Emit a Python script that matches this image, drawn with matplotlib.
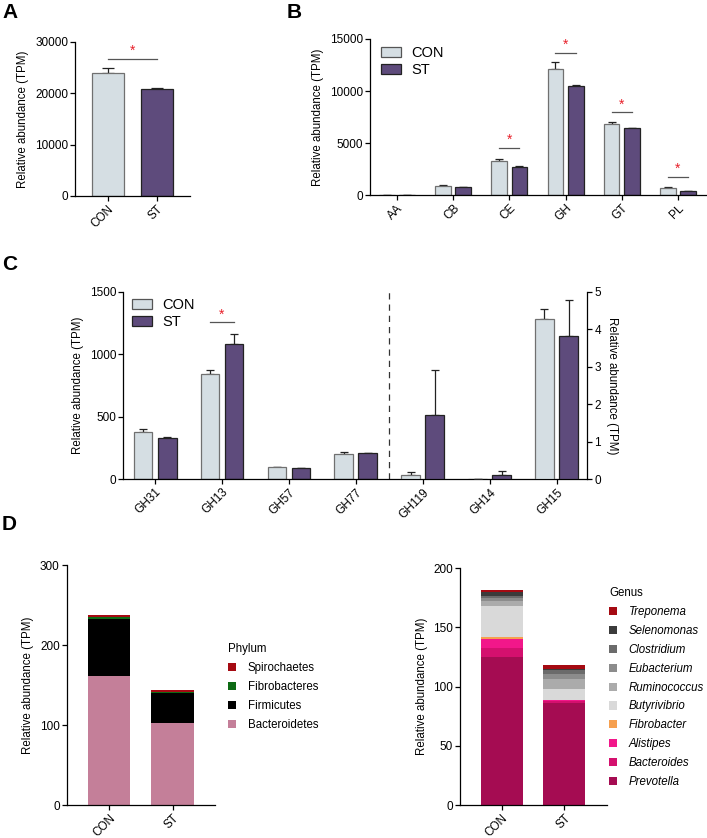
import matplotlib
matplotlib.use("Agg")
import matplotlib.pyplot as plt
from matplotlib.patches import Patch
import numpy as np

plt.rcParams['font.family'] = ['Liberation Sans', 'DejaVu Sans']
plt.rcParams['font.size'] = 8.5

W, H = 707, 838
CON_COLOR = '#d5dee3'
ST_COLOR = '#5e4b7c'

# ---- data ----
groups = ['CON', 'ST']

# panel A
a_mean = [23900, 20800]
a_err = [1000, 200]

# panel B
b_cats = ['AA', 'CB', 'CE', 'GH', 'GT', 'PL']
b_con = [20, 920, 3300, 12100, 6850, 720]
b_con_err = [5, 60, 180, 650, 150, 40]
b_st = [15, 760, 2750, 10450, 6420, 420]
b_st_err = [5, 30, 70, 150, 40, 20]
b_sig = ['CE', 'GH', 'GT', 'PL']
b_sig_y = [4570, 13690, 7970, 1760]

# panel C (left axis)
c_cats_left = ['GH31', 'GH13', 'GH57', 'GH77']
c_con_left = [378, 842, 96, 205]
c_con_left_err = [22, 32, 5, 11]
c_st_left = [328, 1082, 90, 210]
c_st_left_err = [10, 77, 3, 4]
# panel C (right axis)
c_cats_right = ['GH119', 'GH14', 'GH15']
c_con_right = [0.12, 0.0, 4.27]
c_con_right_err = [0.07, 0.0, 0.28]
c_st_right = [1.71, 0.11, 3.82]
c_st_right_err = [1.2, 0.10, 0.95]

# panel D phylum (bottom -> top)
phylum = ['Bacteroidetes', 'Firmicutes', 'Fibrobacteres', 'Spirochaetes']
phylum_con = [161, 71.5, 2.0, 2.5]
phylum_st = [102.5, 38, 0.6, 3.0]
phylum_colors = ['#c47f99', '#000000', '#0d6a14', '#a50a12']

# panel D genus (bottom -> top)
genus = ['Prevotella', 'Bacteroides', 'Alistipes', 'Fibrobacter', 'Butyrivibrio',
         'Ruminococcus', 'Eubacterium', 'Clostridium', 'Selenomonas', 'Treponema']
genus_con = [124.8, 7.6, 7.6, 2.2, 25.9, 4.5, 2.1, 2.2, 2.8, 2.0]
genus_st = [86.5, 1.0, 1.0, 0.3, 9.0, 8.5, 4.2, 3.5, 1.0, 3.4]
genus_colors = ['#a50c52', '#d4106e', '#f2178a', '#f6a04f', '#d9d9d9',
                '#ababab', '#8c8c8c', '#6b6b6b', '#3b3b3b', '#a50a12']


def px_axes(fig, left, top, right, bottom):
    return fig.add_axes([left / W, 1 - bottom / H, (right - left) / W, (bottom - top) / H])


def style(ax):
    for s in ['top', 'right']:
        ax.spines[s].set_visible(False)
    for s in ['left', 'bottom']:
        ax.spines[s].set_linewidth(0.9)
    ax.tick_params(direction='out', length=3.5, width=0.9, pad=1.5, labelsize=8.5)


def rot_labels(ax, labels, pos):
    ax.set_xticks(pos)
    ax.set_xticklabels(labels, rotation=45, ha='right', rotation_mode='anchor')


def sig(ax, x0, x1, y):
    ax.plot([x0, x1], [y, y], color='#555555', lw=0.9)
    ax.annotate('*', (0.5 * (x0 + x1), y), xytext=(0, 0.5), textcoords='offset points',
                ha='center', va='bottom', color='#e8202a', fontsize=10)


def paired_bars(ax, pos, con, con_err, st, st_err, w=0.28, off=0.18):
    pos = np.asarray(pos, dtype=float)
    ax.bar(pos - off, con, w, color=CON_COLOR, edgecolor='#707070', lw=0.9, zorder=2)
    ax.bar(pos + off, st, w, color=ST_COLOR, edgecolor='#222222', lw=0.9, zorder=2)
    ax.errorbar(pos - off, con, yerr=[np.zeros(len(con)), con_err], fmt='none',
                ecolor='#222222', elinewidth=0.9, capsize=3, capthick=0.9, zorder=1)
    ax.errorbar(pos + off, st, yerr=[np.zeros(len(st)), st_err], fmt='none',
                ecolor='#222222', elinewidth=0.9, capsize=3, capthick=0.9, zorder=1)


def group_legend(ax, anchor):
    hs = [Patch(facecolor=CON_COLOR, edgecolor='#555555', lw=0.9),
          Patch(facecolor=ST_COLOR, edgecolor='#222222', lw=0.9)]
    ax.legend(hs, ['CON', 'ST'], loc='upper left', bbox_to_anchor=anchor, frameon=False,
              fontsize=10.5, handlelength=1.4, handleheight=0.7, handletextpad=0.7,
              labelspacing=0.2, borderaxespad=0, borderpad=0)


fig = plt.figure(figsize=(W / 100, H / 100), dpi=100)

# ---- A ----
ax = px_axes(fig, 75, 42, 190, 196)
style(ax)
x = np.arange(len(groups))
ax.bar(x, a_mean, 0.65, color=[CON_COLOR, ST_COLOR], edgecolor=['#707070', '#222222'], lw=0.9, zorder=2)
ax.errorbar(x, a_mean, yerr=[np.zeros(2), a_err], fmt='none', ecolor='#222222',
            elinewidth=0.9, capsize=4, capthick=0.9, zorder=1)
ax.set_xlim(-0.67, 1.67)
ax.set_ylim(0, 30000)
ax.set_yticks([0, 10000, 20000, 30000])
rot_labels(ax, groups, x)
ax.set_ylabel('Relative abundance (TPM)', fontsize=8.3)
sig(ax, 0, 1, 26750)

# ---- B ----
ax = px_axes(fig, 370, 39, 706, 195.3)
style(ax)
x = np.arange(len(b_cats))
paired_bars(ax, x, b_con, b_con_err, b_st, b_st_err)
ax.set_xlim(-0.48, 5.5)
ax.set_ylim(0, 15000)
ax.set_yticks([0, 5000, 10000, 15000])
rot_labels(ax, b_cats, x)
ax.set_ylabel('Relative abundance (TPM)', fontsize=8.3)
for c, y in zip(b_sig, b_sig_y):
    i = b_cats.index(c)
    sig(ax, i - 0.18, i + 0.18, y)
group_legend(ax, ((381 - 370) / 336, (195.3 - 46) / 156.3))

# ---- C ----
ax = px_axes(fig, 123, 291.7, 587.3, 479.3)
style(ax)
nl = len(c_cats_left)
xl = np.arange(nl)
xr = np.arange(nl, nl + len(c_cats_right))
paired_bars(ax, xl, c_con_left, c_con_left_err, c_st_left, c_st_left_err)
ax.set_xlim(-0.48, 6.46)
ax.set_ylim(0, 1500)
ax.set_yticks([0, 500, 1000, 1500])
rot_labels(ax, c_cats_left + c_cats_right, np.concatenate([xl, xr]))
ax.set_ylabel('Relative abundance (TPM)', fontsize=8.3)
sig(ax, 1 - 0.18, 1 + 0.18, 1255)
ax.axvline(nl - 0.5, color='#333333', lw=0.9, ls=(0, (5, 4)))
group_legend(ax, ((132 - 123) / 464.3, (479.3 - 298) / 187.6))
ax2 = ax.twinx()
for s in ['top', 'left', 'bottom']:
    ax2.spines[s].set_visible(False)
ax2.spines['right'].set_linewidth(0.9)
ax2.tick_params(direction='out', length=3.5, width=0.9, pad=1.5, labelsize=8.5)
paired_bars(ax2, xr, c_con_right, c_con_right_err, c_st_right, c_st_right_err)
ax2.set_xlim(-0.48, 6.46)
ax2.set_ylim(0, 5)
ax2.set_yticks([0, 1, 2, 3, 4, 5])
ax2.set_ylabel('Relative abundance (TPM)', rotation=270, labelpad=12, fontsize=8.3)

# ---- D left ----
ax = px_axes(fig, 66.7, 565, 215, 805)
style(ax)
x = np.arange(len(groups))
bottom = np.zeros(2)
for name, vc, vs, col in zip(phylum, phylum_con, phylum_st, phylum_colors):
    ax.bar(x, [vc, vs], 0.67, bottom=bottom, color=col, label=name)
    bottom += np.array([vc, vs])
ax.set_xlim(-0.67, 1.67)
ax.set_ylim(0, 300)
ax.set_yticks([0, 100, 200, 300])
rot_labels(ax, groups, x)
ax.set_ylabel('Relative abundance (TPM)', fontsize=8.3)
hs = [Patch(facecolor=c) for c in phylum_colors[::-1]]
leg = ax.legend(hs, phylum[::-1], title='Phylum', loc='upper left',
                bbox_to_anchor=((228 - 66.7) / 148.3, (805 - 643) / 240), frameon=False,
                fontsize=8.3, title_fontsize=8.3, handlelength=0.7, handleheight=0.7,
                handletextpad=1.0, labelspacing=0.6, borderaxespad=0, borderpad=0)
leg._legend_box.align = 'left'

# ---- D right ----
ax = px_axes(fig, 460, 568.3, 606.7, 805)
style(ax)
bottom = np.zeros(2)
for name, vc, vs, col in zip(genus, genus_con, genus_st, genus_colors):
    ax.bar(x, [vc, vs], 0.67, bottom=bottom, color=col, label=name)
    bottom += np.array([vc, vs])
ax.set_xlim(-0.67, 1.68)
ax.set_ylim(0, 200)
ax.set_yticks([0, 50, 100, 150, 200])
rot_labels(ax, groups, x)
ax.set_ylabel('Relative abundance (TPM)', fontsize=8.3)
hs = [Patch(facecolor=c) for c in genus_colors[::-1]]
leg = ax.legend(hs, genus[::-1], title='Genus', loc='upper left',
                bbox_to_anchor=((609 - 460) / 146.7, (805 - 587) / 236.7), frameon=False,
                fontsize=8.3, title_fontsize=8.3, handlelength=0.7, handleheight=0.7,
                handletextpad=1.0, labelspacing=0.6, borderaxespad=0, borderpad=0,
                prop={'style': 'italic', 'size': 8.3})
leg._legend_box.align = 'left'

# panel letters
for lab, xx, yy in [('A', 2, 18), ('B', 287, 18), ('C', 2, 270), ('D', 2, 530)]:
    fig.text(xx / W, 1 - yy / H, lab, fontsize=15, fontweight='bold', ha='left', va='baseline')

fig.savefig('out.png', dpi=100)
